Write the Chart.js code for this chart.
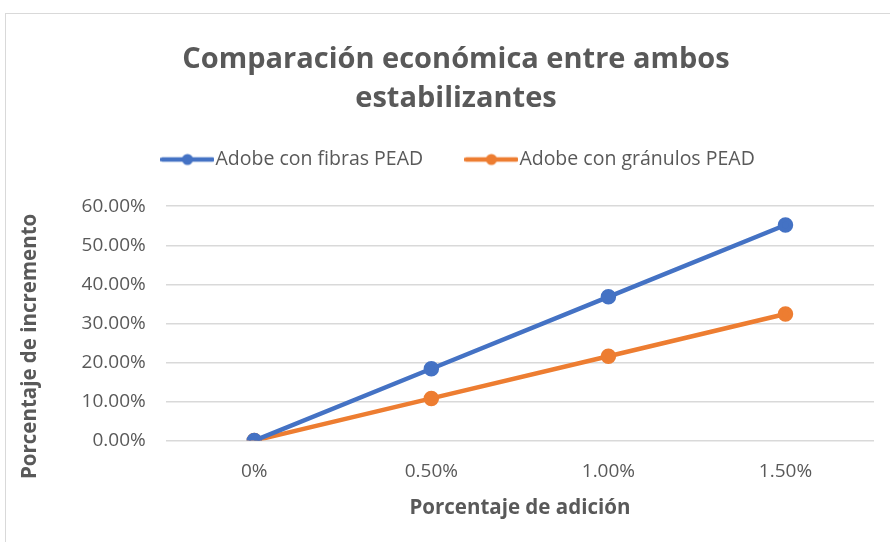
<!DOCTYPE html>
<html lang="es">
<head>
<meta charset="UTF-8">
<title>Comparación económica</title>
<style>
  html, body { margin: 0; padding: 0; background: #fff; overflow: hidden; }
  .wrap { position: relative; width: 890px; height: 542px; }
  .frame { position: absolute; left: 5px; top: 13px; width: 1000px; height: 700px; border: 1px solid #d9d9d9; }
  canvas { position: absolute; left: 0; top: 0; }
</style>
<script src="https://cdn.jsdelivr.net/npm/chart.js"></script>
</head>
<body>
<div class="wrap">
  <div class="frame"></div>
  <canvas id="chart" width="890" height="542"></canvas>
</div>
<script>
// data
const categories = ['0%', '0.50%', '1.00%', '1.50%'];
const fibras = [0, 18.4, 36.8, 55.2];
const granulos = [0, 10.8, 21.6, 32.4];
const seriesNames = ['Adobe con fibras PEAD', 'Adobe con gránulos PEAD'];

const BLUE = '#4472c4';
const ORANGE = '#ed7d31';
const GREY = '#595959';
const FONT = '"Open Sans", "Liberation Sans", sans-serif';

// legend marker: short line with a dot, like Excel
function legendMarker(color) {
  const c = document.createElement('canvas');
  c.width = 54; c.height = 14;
  const g = c.getContext('2d');
  g.strokeStyle = color; g.lineWidth = 4.5; g.lineCap = 'round';
  g.beginPath(); g.moveTo(2, 7); g.lineTo(52, 7); g.stroke();
  g.fillStyle = color;
  g.beginPath(); g.arc(27, 7, 5.5, 0, Math.PI * 2); g.fill();
  return c;
}

// shift a drawing function by dx, dy
function shifted(obj, name, dx, dy) {
  const orig = obj[name];
  obj[name] = function (...args) {
    const ctx = this.ctx;
    ctx.save();
    ctx.translate(dx, dy);
    orig.apply(this, args);
    ctx.restore();
  };
}

// Excel-like placement: room under the legend, title/legend a bit right of centre,
// y axis title a bit lower
const excelLayout = {
  id: 'excelLayout',
  beforeInit(chart) {
    const fit = chart.legend.fit;
    chart.legend.fit = function () {
      fit.bind(chart.legend)();
      this.height += 27;
    };
    shifted(chart.legend, 'draw', 16, 0);
    shifted(chart.titleBlock, 'draw', 10, 0);
  },
  beforeDraw(chart) {
    const y = chart.scales.y;
    if (!y._shifted) {
      shifted(y, 'drawTitle', 0, 23);
      y._shifted = true;
    }
  }
};

new Chart(document.getElementById('chart'), {
  type: 'line',
  data: {
    labels: categories,
    datasets: [
      { label: seriesNames[0], data: fibras, borderColor: BLUE, backgroundColor: BLUE,
        borderWidth: 4.5, pointRadius: 5.5, pointHoverRadius: 5.5, pointStyle: 'circle' },
      { label: seriesNames[1], data: granulos, borderColor: ORANGE, backgroundColor: ORANGE,
        borderWidth: 4.5, pointRadius: 5.5, pointHoverRadius: 5.5, pointStyle: 'circle' }
    ]
  },
  plugins: [excelLayout],
  options: {
    responsive: false,
    animation: false,
    elements: { line: { tension: 0 } },
    layout: { padding: { left: 18, right: 16, top: 24, bottom: 18 } },
    plugins: {
      title: {
        display: true,
        text: ['Comparación económica entre ambos', 'estabilizantes'],
        color: GREY,
        font: { family: FONT, size: 29, weight: 'bold', lineHeight: 1.34 },
        padding: { top: 16, bottom: -18 }
      },
      legend: {
        position: 'top',
        labels: {
          usePointStyle: true,
          pointStyleWidth: 36.5,
          color: GREY,
          font: { family: FONT, size: 19.5 },
          padding: 50,
          generateLabels(chart) {
            return chart.data.datasets.map((ds, i) => ({
              text: ds.label,
              fontColor: GREY,
              pointStyle: legendMarker(ds.borderColor),
              lineWidth: 0,
              strokeStyle: 'transparent',
              fillStyle: ds.borderColor,
              datasetIndex: i
            }));
          }
        }
      },
      tooltip: { enabled: false }
    },
    scales: {
      x: {
        offset: true,
        grid: { display: false },
        border: { display: false },
        ticks: { color: GREY, font: { family: FONT, size: 19 }, padding: 12 },
        title: { display: true, text: 'Porcentaje de adición', color: GREY,
                 font: { family: FONT, size: 20.5, weight: 'bold' }, padding: { top: 0 } }
      },
      y: {
        min: 0, max: 60,
        ticks: { stepSize: 10, color: GREY, font: { family: FONT, size: 19 }, padding: 20,
                 callback: v => v.toFixed(2) + '%' },
        grid: { color: '#d9d9d9', lineWidth: 1.5, drawTicks: false },
        border: { display: false },
        title: { display: true, text: 'Porcentaje de incremento', color: GREY,
                 font: { family: FONT, size: 20.5, weight: 'bold' }, padding: { top: 0, bottom: 19 } }
      }
    }
  }
});
</script>
</body>
</html>
